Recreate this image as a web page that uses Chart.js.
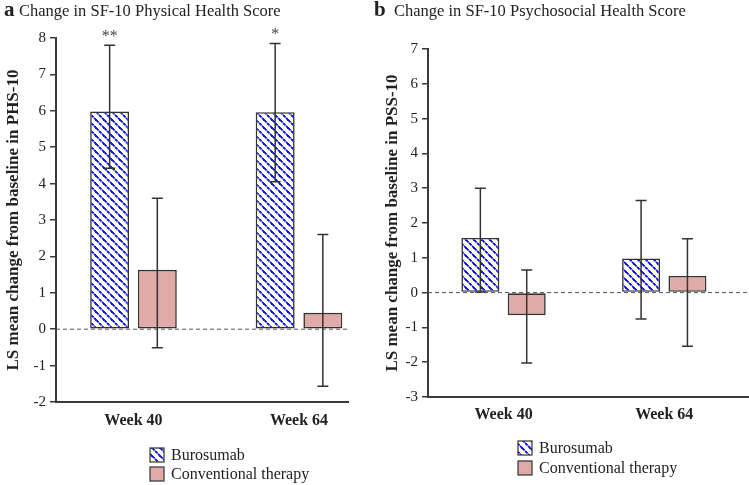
<!DOCTYPE html>
<html>
<head>
<meta charset="utf-8">
<script src="https://cdn.jsdelivr.net/npm/chart.js@4.4.1/dist/chart.umd.min.js"></script>
<style>
    html, body { margin: 0; padding: 0; background: #fff; }
    #wrap { position: relative; width: 749px; height: 485px; overflow: hidden; }
    canvas { position: absolute; top: 0; }
    #chartA { left: 0; }
    #chartB { left: 370px; }
</style>
</head>
<body>
<div id="wrap">
    <canvas id="chartA" width="370" height="485"></canvas>
    <canvas id="chartB" width="379" height="485"></canvas>
</div>
<script>
// Categories and series
const weeks = ['Week 40', 'Week 64'];
const seriesNames = ['Burosumab', 'Conventional therapy'];

// Panel a - PHS-10
const phsBurosumab = [5.98, 5.96];
const phsBurosumabLow = [4.42, 4.05];
const phsBurosumabHigh = [7.80, 7.85];
const phsConventional = [1.63, 0.45];
const phsConventionalLow = [-0.51, -1.57];
const phsConventionalHigh = [3.60, 2.60];
const phsStars = ['**', '*'];

// Panel b - PSS-10
const pssBurosumab = [1.57, 0.98];
const pssBurosumabLow = [0.02, -0.76];
const pssBurosumabHigh = [3.00, 2.65];
const pssConventional = [-0.65, 0.48];
const pssConventionalLow = [-2.02, -1.54];
const pssConventionalHigh = [0.65, 1.55];

const SERIF = '"Liberation Serif", "Times New Roman", serif';
const axisColor = '#3a3a3a';
const textColor = '#222';
const pinkFill = '#e0aaa7';

// blue dotted diagonal hatch, like the Burosumab bars
function stripePattern() {
    const c = document.createElement('canvas');
    c.width = 8; c.height = 8;
    const g = c.getContext('2d');
    g.fillStyle = '#fff';
    g.fillRect(0, 0, 8, 8);
    for (let k = 0; k < 8; k++) {
        g.fillStyle = (k % 3 === 2) ? '#8c8cff' : '#1414f5';
        g.fillRect(k, k, 2, 1.6);
        if (k === 7) g.fillRect(-1, 7, 2, 1.6);
    }
    g.fillStyle = '#1414f5';
    g.fillRect(7, 0, 1, 1);
    return g.createPattern(c, 'repeat');
}
const stripes = stripePattern();

// dashed line at zero
const zeroLine = {
    id: 'zeroLine',
    beforeDatasetsDraw(chart) {
        const { ctx, chartArea } = chart;
        const y0 = chart.scales.y.getPixelForValue(0);
        ctx.save();
        ctx.strokeStyle = '#555';
        ctx.lineWidth = 1;
        ctx.setLineDash([4, 3]);
        ctx.beginPath();
        ctx.moveTo(chartArea.left, y0);
        ctx.lineTo(chartArea.right, y0);
        ctx.stroke();
        ctx.restore();
    }
};

// error bars + significance stars
const errorBars = {
    id: 'errorBars',
    afterDatasetsDraw(chart) {
        const ctx = chart.ctx, y = chart.scales.y;
        ctx.save();
        ctx.strokeStyle = '#333';
        ctx.lineWidth = 1.5;
        chart.data.datasets.forEach((ds, di) => {
            chart.getDatasetMeta(di).data.forEach((bar, i) => {
                const top = y.getPixelForValue(ds.errHigh[i]);
                const bot = y.getPixelForValue(ds.errLow[i]);
                ctx.beginPath();
                ctx.moveTo(bar.x, top); ctx.lineTo(bar.x, bot);
                ctx.moveTo(bar.x - 5.5, top); ctx.lineTo(bar.x + 5.5, top);
                ctx.moveTo(bar.x - 5.5, bot); ctx.lineTo(bar.x + 5.5, bot);
                ctx.stroke();
                if (ds.stars && ds.stars[i]) {
                    ctx.fillStyle = '#444';
                    ctx.font = '16px ' + SERIF;
                    ctx.textAlign = 'center';
                    ctx.textBaseline = 'alphabetic';
                    ctx.fillText(ds.stars[i], bar.x, top - 4);
                }
            });
        });
        ctx.restore();
    }
};

// panel letter, title and the vertical legend
const decorations = {
    id: 'decorations',
    afterDraw(chart, args, o) {
        const ctx = chart.ctx;
        ctx.save();
        ctx.fillStyle = textColor;
        ctx.textBaseline = 'alphabetic';
        ctx.textAlign = 'left';
        ctx.font = 'bold 21px ' + SERIF;
        ctx.fillText(o.letter, o.titleX, 16);
        ctx.font = '16.5px ' + SERIF;
        ctx.fillText(o.title, o.titleX + o.titleGap, 16);

        ctx.textBaseline = 'middle';
        o.legendY.forEach((ly, i) => {
            const ds = chart.data.datasets[i];
            ctx.fillStyle = ds.backgroundColor;
            ctx.fillRect(o.legendX, ly, 14, 14);
            ctx.strokeStyle = '#333';
            ctx.lineWidth = 1.2;
            ctx.strokeRect(o.legendX, ly, 14, 14);
            ctx.fillStyle = textColor;
            ctx.font = '16px ' + SERIF;
            ctx.fillText(ds.label, o.legendX + 21, ly + 7.5);
        });
        ctx.restore();
    }
};

function makePanel(id, p) {
    const datasets = [
        {
            label: seriesNames[0],
            data: p.buro.map((v, i) => ({ x: i + 1, y: v })),
            errLow: p.buroLow, errHigh: p.buroHigh, stars: p.stars,
            backgroundColor: stripes
        },
        {
            label: seriesNames[1],
            data: p.conv.map((v, i) => ({ x: i + 1, y: v })),
            errLow: p.convLow, errHigh: p.convHigh,
            backgroundColor: pinkFill
        }
    ];
    datasets.forEach(d => {
        d.borderColor = '#333';
        d.borderWidth = 1.6;
        d.borderSkipped = false;
        d.categoryPercentage = p.catPct;
        d.barPercentage = p.barPct;
    });

    return new Chart(document.getElementById(id), {
        type: 'bar',
        data: { datasets },
        plugins: [zeroLine, errorBars, decorations],
        options: {
            responsive: false,
            animation: false,
            layout: { padding: p.padding },
            plugins: {
                legend: { display: false },
                tooltip: { enabled: false },
                decorations: {
                    letter: p.letter, title: p.title, titleX: p.titleX, titleGap: p.titleGap,
                    legendX: p.legendX, legendY: p.legendY
                }
            },
            scales: {
                x: {
                    type: 'linear',
                    offset: false,
                    min: p.xMin,
                    max: p.xMax,
                    afterBuildTicks: s => { s.ticks = weeks.map((w, i) => ({ value: i + 1 })); },
                    afterFit: s => { s.height = p.xHeight; },
                    grid: { display: false, drawTicks: false },
                    border: { display: true, color: axisColor, width: 2 },
                    ticks: {
                        padding: p.xPad,
                        autoSkip: false,
                        maxRotation: 0,
                        color: textColor,
                        font: { family: SERIF, size: 16, weight: 'bold' },
                        callback: v => weeks[v - 1] || ''
                    }
                },
                y: {
                    min: p.yMin,
                    max: p.yMax,
                    afterFit: s => { s.width = p.yWidth; },
                    grid: { drawOnChartArea: false, drawTicks: true, tickLength: 6, color: axisColor, lineWidth: 1.5 },
                    border: { display: true, color: axisColor, width: 2 },
                    ticks: {
                        stepSize: 1,
                        padding: 4,
                        color: textColor,
                        font: { family: SERIF, size: 15 }
                    },
                    title: {
                        display: true,
                        text: p.yTitle,
                        color: textColor,
                        padding: { top: 3, bottom: 0 },
                        font: { family: SERIF, size: 17, weight: 'bold' }
                    }
                }
            }
        }
    });
}

makePanel('chartA', {
    letter: 'a', title: 'Change in SF-10 Physical Health Score', titleX: 4, titleGap: 15,
    yTitle: 'LS mean change from baseline in PHS-10',
    buro: phsBurosumab, buroLow: phsBurosumabLow, buroHigh: phsBurosumabHigh, stars: phsStars,
    conv: phsConventional, convLow: phsConventionalLow, convHigh: phsConventionalHigh,
    yMin: -2, yMax: 8, xMin: 0.532, xMax: 2.296,
    padding: { top: 38, left: 0, right: 22, bottom: 0 },
    yWidth: 56, xHeight: 83, xPad: 9,
    catPct: 0.576, barPct: 0.817,
    legendX: 150, legendY: [448, 467]
});

makePanel('chartB', {
    letter: 'b', title: 'Change in SF-10 Psychosocial Health Score', titleX: 4, titleGap: 20,
    yTitle: 'LS mean change from baseline in PSS-10',
    buro: pssBurosumab, buroLow: pssBurosumabLow, buroHigh: pssBurosumabHigh, stars: null,
    conv: pssConventional, convLow: pssConventionalLow, convHigh: pssConventionalHigh,
    yMin: -3, yMax: 7, xMin: 0.530, xMax: 2.521,
    padding: { top: 49, left: 9, right: 1, bottom: 0 },
    yWidth: 49, xHeight: 88, xPad: 8,
    catPct: 0.577, barPct: 0.819,
    legendX: 148, legendY: [441, 461]
});
</script>
</body>
</html>
